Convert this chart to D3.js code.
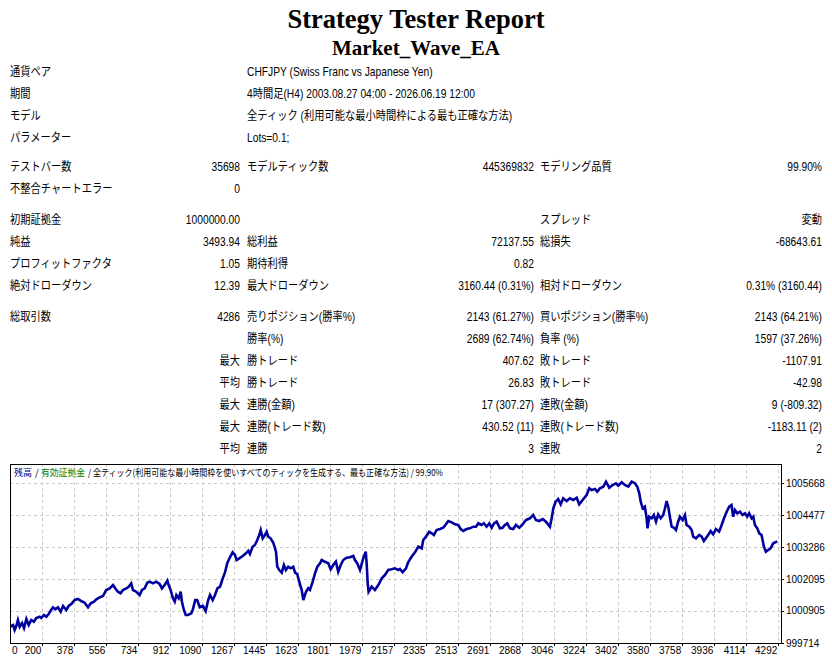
<!DOCTYPE html>
<html><head><meta charset="utf-8">
<script src="https://cdn.jsdelivr.net/npm/d3@7/dist/d3.min.js"></script>
<style>
html,body{margin:0;padding:0;background:#fff;}
svg{display:block;}
</style></head>
<body>
<svg id="c" width="832" height="664"></svg>
<script>
// ---------- DATA ----------
const titleText = "Strategy Tester Report";
const eaName = "Market_Wave_EA";
const infoLabels = ["通貨ペア","期間","モデル","パラメーター"];
const infoValues = ["CHFJPY (Swiss Franc vs Japanese Yen)","4時間足(H4) 2003.08.27 04:00 - 2026.06.19 12:00","全ティック (利用可能な最小時間枠による最も正確な方法)","Lots=0.1;"];
// rows: [label1, value1, label2, value2, label3, value3]
const statRows = [
  ["テストバー数","35698","モデルティック数","445369832","モデリング品質","99.90%"],
  ["不整合チャートエラー","0","","","",""],
  ["初期証拠金","1000000.00","","","スプレッド","変動"],
  ["純益","3493.94","総利益","72137.55","総損失","-68643.61"],
  ["プロフィットファクタ","1.05","期待利得","0.82","",""],
  ["絶対ドローダウン","12.39","最大ドローダウン","3160.44 (0.31%)","相対ドローダウン","0.31% (3160.44)"],
  ["総取引数","4286","売りポジション(勝率%)","2143 (61.27%)","買いポジション(勝率%)","2143 (64.21%)"],
  ["","","勝率(%)","2689 (62.74%)","負率 (%)","1597 (37.26%)"],
  ["","最大","勝トレード","407.62","敗トレード","-1107.91"],
  ["","平均","勝トレード","26.83","敗トレード","-42.98"],
  ["","最大","連勝(金額)","17 (307.27)","連敗(金額)","9 (-809.32)"],
  ["","最大","連勝(トレード数)","430.52 (11)","連敗(トレード数)","-1183.11 (2)"],
  ["","平均","連勝","3","連敗","2"]
];
const legendTexts = ["残高","/","有効証拠金","/ 全ティック(利用可能な最小時間枠を使いすべてのティックを生成する、最も正確な方法) / 99.90%"];
const legendColors = ["#00008b","#000","#008000","#000"];
const xTickValues = [200,378,556,734,912,1090,1267,1445,1623,1801,1979,2157,2335,2513,2691,2868,3046,3224,3402,3580,3758,3936,4114,4292];
const yTickValues = [999714,1000905,1002095,1003286,1004477,1005668];
const tradeIdx = [0,24,37,46,55,64,74,87,98,111,124,138,153,166,185,194,209,222,235,246,259,272,287,302,315,333,346,361,380,398,416,435,454,469,487,500,519,537,555,574,593,605,620,635,648,667,680,694,704,722,741,754,769,783,797,815,833,852,865,880,895,902,913,926,936,945,958,969,976,987,997,1010,1028,1037,1050,1061,1075,1093,1108,1122,1132,1147,1160,1173,1188,1203,1215,1228,1243,1258,1271,1280,1295,1314,1332,1345,1354,1369,1382,1395,1406,1414,1425,1438,1447,1456,1469,1484,1499,1506,1517,1531,1543,1554,1567,1581,1595,1605,1617,1628,1642,1651,1666,1678,1688,1703,1716,1729,1744,1753,1771,1790,1803,1817,1832,1845,1859,1873,1892,1910,1929,1938,1951,1966,1984,1998,2003,2009,2014,2031,2049,2068,2087,2105,2123,2142,2160,2179,2188,2203,2222,2234,2253,2272,2290,2309,2318,2333,2351,2365,2377,2392,2411,2429,2444,2457,2476,2494,2512,2526,2540,2559,2577,2596,2611,2624,2642,2655,2670,2685,2698,2711,2726,2744,2759,2772,2785,2800,2818,2833,2852,2870,2889,2911,2929,2944,2963,2982,3000,3022,3032,3041,3054,3068,3082,3096,3115,3133,3152,3171,3185,3204,3226,3241,3254,3273,3285,3300,3319,3334,3352,3371,3389,3402,3421,3439,3458,3477,3495,3508,3519,3527,3538,3550,3560,3565,3574,3588,3600,3612,3624,3638,3652,3662,3671,3680,3689,3699,3712,3723,3735,3745,3760,3773,3782,3797,3810,3819,3834,3852,3866,3878,3889,3902,3916,3930,3945,3963,3977,3990,4005,4019,4032,4041,4051,4064,4079,4093,4106,4119,4130,4144,4153,4162,4175,4186,4199,4212,4223,4236,4249,4264,4286];
const balance = [1000000,1000347,1000384,1000198,1000347,1000570,1000321,1000458,1000272,1000607,1000384,1000570,1000507,1000644,1000693,1000644,1000756,1000693,1000793,1000916,1001042,1000968,1001042,1000879,1001091,1000942,1001091,1001165,1001314,1001351,1001277,1001214,1001042,1001191,1001251,1001340,1001414,1001463,1001686,1001749,1001872,1001749,1001623,1001563,1001686,1001749,1001809,1001935,1001686,1001623,1001500,1001686,1001749,1001958,1001995,1001935,1001995,1001909,1001749,1001872,1002032,1001872,1001686,1001377,1001251,1001500,1001377,1001623,1001251,1000942,1000756,1000756,1000819,1000968,1001314,1001314,1001042,1001091,1000905,1001314,1001500,1001314,1001500,1001749,1001809,1002121,1002330,1002680,1002903,1003089,1002988,1002802,1002866,1002951,1003052,1003148,1003026,1003297,1003361,1003547,1003733,1003919,1003610,1003733,1003856,1003670,1003610,1003446,1003111,1002553,1002430,1002330,1002616,1002430,1002553,1002494,1002553,1002330,1002281,1001995,1001686,1001314,1001623,1001749,1001686,1001995,1002308,1002553,1002680,1002802,1002739,1002680,1002456,1002616,1002739,1002367,1002616,1002802,1002888,1002903,1002951,1002802,1002680,1002430,1002866,1003111,1002680,1001935,1001623,1001809,1001686,1001872,1002121,1002244,1002430,1002456,1002494,1002430,1002468,1002345,1002494,1002717,1002925,1003089,1003297,1003238,1003547,1003670,1003856,1003796,1003733,1003919,1003956,1004004,1004131,1004254,1004205,1004131,1004105,1003956,1003882,1003956,1003982,1004042,1004042,1004168,1004105,1004168,1004042,1004168,1004004,1004168,1004228,1003982,1004004,1004105,1004168,1003982,1003956,1004105,1004004,1004131,1004291,1004354,1004477,1004291,1004254,1004328,1004228,1004042,1004354,1004726,1004972,1005072,1004875,1005098,1004998,1005098,1005035,1005121,1004875,1005035,1005221,1005470,1005407,1005444,1005344,1005470,1005530,1005716,1005493,1005593,1005656,1005567,1005694,1005593,1005530,1005716,1005656,1005530,1005284,1004972,1004726,1004786,1004354,1003982,1004414,1004354,1004477,1004228,1004503,1004354,1004477,1004726,1004998,1004786,1004414,1004042,1004004,1003919,1004228,1004414,1004291,1004477,1004105,1004042,1003919,1003670,1003610,1003733,1003670,1003509,1003610,1003733,1003882,1003759,1003956,1003856,1004105,1004354,1004600,1004786,1004849,1004414,1004663,1004540,1004600,1004477,1004540,1004414,1004540,1004354,1004414,1004105,1003982,1003796,1003733,1003297,1003111,1003175,1003238,1003424,1003494];

// ---------- DRAW ----------
const svg = d3.select("#c");
const serif = "'Liberation Serif','Times New Roman',serif";
const sans = "'Liberation Sans','Noto Sans CJK JP',sans-serif";

svg.append("text").attr("x",416).attr("y",27.5).attr("text-anchor","middle")
  .attr("font-family",serif).attr("font-weight","bold").attr("font-size",26.5).text(titleText);
svg.append("text").attr("x",416).attr("y",54.5).attr("text-anchor","middle")
  .attr("font-family",serif).attr("font-weight","bold").attr("font-size",21).text(eaName);

const sx = 0.855;
const tbl = svg.append("g").attr("transform",`scale(${sx},1)`)
  .attr("font-family",sans).attr("font-size",12).attr("fill","#000");
function put(x, y, t, anchor){
  if(!t) return;
  tbl.append("text").attr("x",x/sx).attr("y",y).attr("text-anchor",anchor).text(t);
}
const infoY = [72,94,116,138];
infoLabels.forEach((l,i)=>{ put(10, infoY[i]+4, l, "start"); put(247, infoY[i]+4, infoValues[i], "start"); });
const rowY = [167,189,220,242,264,286,317,339,361,383,405,427,449];
statRows.forEach((r,i)=>{
  const y = rowY[i]+4;
  put(10,y,r[0],"start");
  put(240,y,r[1],"end");
  put(247,y,r[2],"start");
  put(534,y,r[3],"end");
  put(540,y,r[4],"start");
  put(822,y,r[5],"end");
});

// chart
const L=10, T=464, R=781, B=643;
const x = d3.scaleLinear().domain([0,4292]).range([6.4,778.3]);
const y = d3.scaleLinear().domain([999714, 999714 + (B-T)/160*5954]).range([B,T]);

const g = svg.append("g");
// grid
g.selectAll("line.vg").data(xTickValues).enter().append("line")
  .attr("x1",d=>Math.round(x(d))+0.5).attr("x2",d=>Math.round(x(d))+0.5).attr("y1",T).attr("y2",B)
  .attr("stroke","#c8c8c8").attr("stroke-dasharray","3,3");
g.selectAll("line.hg").data(yTickValues.slice(1)).enter().append("line")
  .attr("x1",L).attr("x2",R).attr("y1",d=>Math.round(y(d))+0.5).attr("y2",d=>Math.round(y(d))+0.5)
  .attr("stroke","#c8c8c8").attr("stroke-dasharray","3,3");
// ticks outside
g.selectAll("line.xt").data(xTickValues).enter().append("line")
  .attr("x1",d=>Math.round(x(d))+0.5).attr("x2",d=>Math.round(x(d))+0.5).attr("y1",B).attr("y2",B+3).attr("stroke","#000");
g.selectAll("line.yt").data(yTickValues).enter().append("line")
  .attr("x1",R).attr("x2",R+3).attr("y1",d=>Math.round(y(d))+0.5).attr("y2",d=>Math.round(y(d))+0.5).attr("stroke","#000");

svg.append("clipPath").attr("id","clip").append("rect").attr("x",L).attr("y",T).attr("width",R-L).attr("height",B-T);
const pts = tradeIdx.map((d,i)=>[d,balance[i]]);
g.append("path").datum(pts).attr("clip-path","url(#clip)")
  .attr("d", d3.line().x(d=>x(d[0])).y(d=>y(d[1])))
  .attr("fill","none").attr("stroke","#0000a0").attr("stroke-width",2.6).attr("stroke-linejoin","miter");

// frame
g.append("rect").attr("x",L+0.5).attr("y",T+0.5).attr("width",R-L).attr("height",B-T)
  .attr("fill","none").attr("stroke","#000");

// axis labels
const ax = svg.append("g").attr("font-family",sans).attr("font-size",10).attr("fill","#000");
ax.append("text").attr("x",12).attr("y",B+11).text("0");
ax.selectAll("text.xl").data(xTickValues).enter().append("text")
  .attr("x",d=>x(d)-1).attr("y",B+11).attr("text-anchor","end").text(d=>d);
ax.selectAll("text.yl").data(yTickValues).enter().append("text")
  .attr("x",786).attr("y",d=>y(d)+3.5).text(d=>d);

// legend (separate pieces placed side by side)
const legX = [14, 35, 41, 88];
const legW = [18, 0, 44, 355];
legendTexts.forEach((t,i)=>{
  const el = svg.append("text").attr("x",legX[i]).attr("y",475.5)
    .attr("font-family","'Noto Sans CJK JP',sans-serif").attr("font-size",9.5)
    .attr("fill",legendColors[i]).text(t);
  if(legW[i]) el.attr("textLength",legW[i]).attr("lengthAdjust","spacingAndGlyphs");
});
</script>
</body></html>
